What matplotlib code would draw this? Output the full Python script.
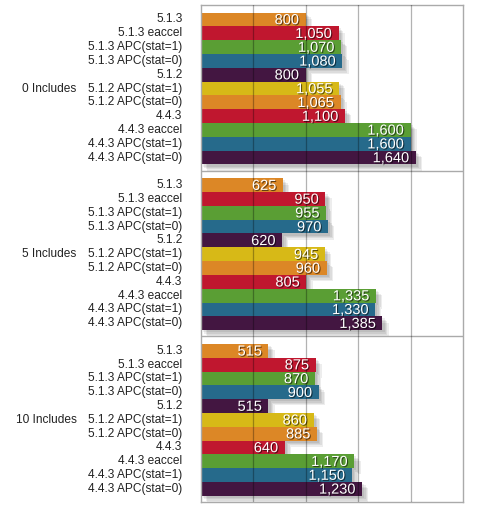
import matplotlib
matplotlib.use("Agg")
import matplotlib.pyplot as plt
import matplotlib.patheffects as pe
import numpy as np

# ---- data ------------------------------------------------------------------
groups = ["0 Includes", "5 Includes", "10 Includes"]
categories = ["5.1.3", "5.1.3 eaccel", "5.1.3 APC(stat=1)", "5.1.3 APC(stat=0)",
              "5.1.2", "5.1.2 APC(stat=1)", "5.1.2 APC(stat=0)", "4.4.3",
              "4.4.3 eaccel", "4.4.3 APC(stat=1)", "4.4.3 APC(stat=0)"]
vals_0 = [800, 1050, 1070, 1080, 800, 1055, 1065, 1100, 1600, 1600, 1640]
vals_5 = [625, 950, 955, 970, 620, 945, 960, 805, 1335, 1330, 1385]
vals_10 = [515, 875, 870, 900, 515, 860, 885, 640, 1170, 1150, 1230]

# ---- style -----------------------------------------------------------------
ORANGE = "#dc8726"
RED = "#c0172f"
GREEN = "#5a9e34"
BLUE = "#266a8b"
PURPLE = "#431641"
YELLOW = "#d7b917"
bar_colors = [ORANGE, RED, GREEN, BLUE, PURPLE, YELLOW, ORANGE, RED, GREEN,
              BLUE, PURPLE]

plt.rcParams["font.family"] = ["Liberation Sans", "DejaVu Sans"]

fig = plt.figure(figsize=(5.0, 5.14), dpi=100)
ax = fig.add_axes([0.402, 0.0233, 0.524, 0.967])

GH = 12.0     # group height in bar units
PAD = 0.55    # space above the first bar in a group

# soft drop shadow: a few stacked, faint offset copies
shadow = [pe.SimplePatchShadow(offset=(o, -o), shadow_rgbFace="k", alpha=0.07)
          for o in (4.5, 3.5, 2.5, 1.5)] + [pe.Normal()]
txt_fx = [pe.SimplePatchShadow(offset=(0.8, -0.8), shadow_rgbFace="k",
                               alpha=0.55), pe.Normal()]

for g, (gname, vals) in enumerate(zip(groups, [vals_0, vals_5, vals_10])):
    ys = g * GH + PAD + 0.5 + np.arange(len(vals))
    bars = ax.barh(ys, vals, height=1.0, color=bar_colors, zorder=2)
    for b in bars:
        b.set_path_effects(shadow)
    for y, v in zip(ys, vals):
        ax.text(v - 50, y + 0.05, f"{v:,}", color="white", fontsize=10.5,
                ha="right", va="center", zorder=5, path_effects=txt_fx)
    for y, c in zip(ys, categories):
        ax.text(-0.071, y, c, transform=ax.get_yaxis_transform(),
                ha="right", va="center", fontsize=8.6, color="#222222")
    ax.text(-0.475, ys[5], gname, transform=ax.get_yaxis_transform(),
            ha="right", va="center", fontsize=8.6, color="#222222")
    if g > 0:
        ax.axhline(g * GH, color="#aaaaaa", lw=1.0, zorder=1)

for x in [400, 800, 1200, 1600]:
    ax.axvline(x, color="k", alpha=0.3, lw=0.9, zorder=4)

ax.set_xlim(0, 2000)
ax.set_ylim(3 * GH, 0)
ax.set_xticks([])
ax.set_yticks([])
for s in ax.spines.values():
    s.set_color("#aaaaaa")
    s.set_linewidth(1.0)

fig.savefig("out.png", dpi=100)
